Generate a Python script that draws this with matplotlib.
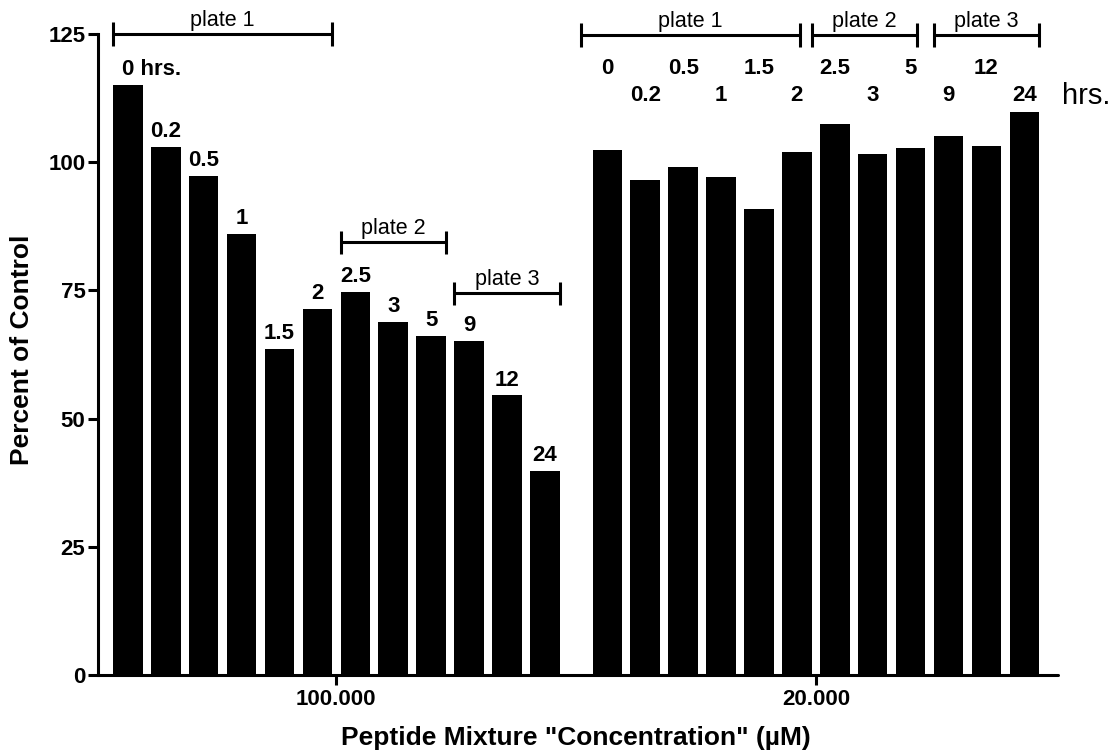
import matplotlib
matplotlib.use("Agg")
import matplotlib.pyplot as plt
import numpy as np

plt.rcParams['font.family'] = ['Liberation Sans', 'DejaVu Sans']

# incubation times (hrs.) and percent of control for the two concentrations
hours = ["0", "0.2", "0.5", "1", "1.5", "2", "2.5", "3", "5", "9", "12", "24"]
pct_100000 = [115.1, 103.0, 97.4, 86.0, 63.6, 71.4, 74.7, 68.9, 66.1, 65.1, 54.5, 39.8]
pct_20000 = [102.4, 96.5, 99.1, 97.2, 90.8, 102.0, 107.4, 101.6, 102.8, 105.2, 103.2, 109.7]
concentrations = ["100.000", "20.000"]
plates = ["plate 1", "plate 2", "plate 3"]
plate_bars = [(0, 5), (6, 8), (9, 11)]  # first / last bar of each plate

n = len(hours)
width = 0.78
x_left = np.arange(n)
x_right = np.arange(n) + n + 0.65

fig = plt.figure(figsize=(11.13, 7.55), dpi=100)
ax = fig.add_axes([0.088, 0.106, 0.8626, 0.849])

ax.bar(x_left, pct_100000, width, color='black')
ax.bar(x_right, pct_20000, width, color='black')

ax.set_xlim(-0.79, 24.54)
ax.set_ylim(0, 125)
ax.set_yticks([0, 25, 50, 75, 100, 125])
ax.set_xticks([x_left.mean(), x_right.mean()])
ax.set_xticklabels(concentrations)
for s in ['top', 'right']:
    ax.spines[s].set_visible(False)
for s in ['left', 'bottom']:
    ax.spines[s].set_linewidth(2.2)
ax.spines['bottom'].set_capstyle('round')
ax.tick_params(width=2.2, length=7, labelsize=16)
ax.tick_params(axis='y', pad=2)
ax.tick_params(axis='x', pad=3)
for lab in ax.get_xticklabels() + ax.get_yticklabels():
    lab.set_fontweight('bold')

fig.text(22 / 1113, 1 - 350 / 755, "Percent of Control", rotation=90,
         ha='center', va='center', fontsize=19, fontweight='bold')
fig.text(576 / 1113, 1 - 745 / 755, 'Peptide Mixture "Concentration" (µM)',
         ha='center', va='baseline', fontsize=19, fontweight='bold')

# labels over the left bars
for i, (x, v, h) in enumerate(zip(x_left, pct_100000, hours)):
    if i == 0:
        ax.annotate(h + " hrs.", (x, v), xytext=(-4.3, 7), textcoords='offset points',
                    ha='left', va='baseline', fontsize=16, fontweight='bold')
    else:
        ax.annotate(h, (x, v), xytext=(0, 7), textcoords='offset points',
                    ha='center', va='baseline', fontsize=16, fontweight='bold')

# two rows of labels over the right group
for i, (x, h) in enumerate(zip(x_right, hours)):
    y = 117.1 if i % 2 == 0 else 111.9
    ax.text(x, y, h, ha='center', va='baseline', fontsize=16, fontweight='bold',
            clip_on=False)
ax.text(x_right[-1] + 1.0, 111.3, "hrs.", ha='left', va='baseline', fontsize=21,
        clip_on=False)


def bracket(x0, x1, y, label):
    kw = dict(color='black', lw=2.2, clip_on=False, solid_capstyle='butt')
    ax.plot([x0, x1], [y, y], **kw)
    ax.plot([x0, x0], [y - 2.25, y + 2.25], **kw)
    ax.plot([x1, x1], [y - 2.25, y + 2.25], **kw)
    ax.annotate(label, ((x0 + x1) / 2, y), xytext=(0, 5.8), textcoords='offset points',
                ha='center', va='baseline', fontsize=15.5, annotation_clip=False)


left_heights = [125, 84.4, 74.4]
for name, (a, b), y in zip(plates, plate_bars, left_heights):
    bracket(x_left[a] - width / 2, x_left[b] + width / 2, y, name)

right_shift = [-0.3, -0.22, 0.0]
for name, (a, b), sh in zip(plates, plate_bars, right_shift):
    bracket(x_right[a] - width / 2 + sh, x_right[b] + width / 2 + sh, 124.8, name)

fig.savefig("out.png", dpi=100)
